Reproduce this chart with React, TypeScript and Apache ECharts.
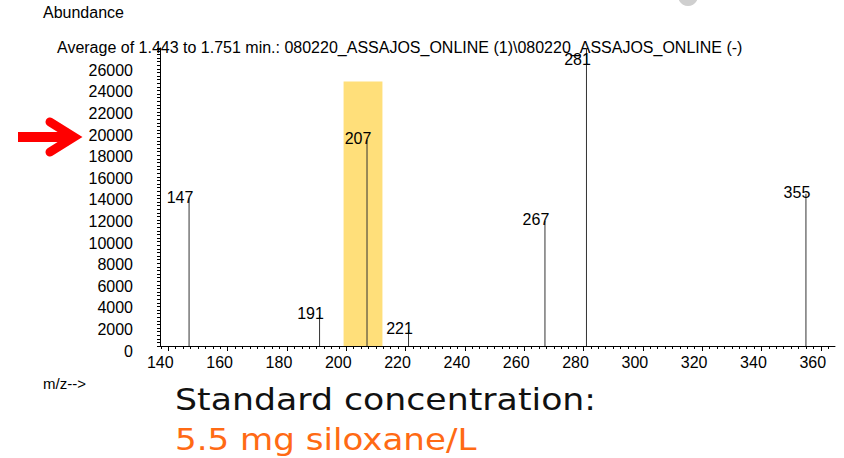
import React, { useEffect, useRef } from "react";
import * as echarts from "echarts";

// ---- data ----
const mzValues = [147, 191, 207, 221, 267, 281, 355];
const abundances = [13700, 2900, 19100, 1500, 11600, 27600, 14100];
const xTickLabels = [140, 160, 180, 200, 220, 240, 260, 280, 300, 320, 340, 360];
const yTickLabels = [0, 2000, 4000, 6000, 8000, 10000, 12000, 14000, 16000, 18000, 20000, 22000, 24000, 26000];
const highlightRange = [199.1, 212.2];
const highlightTop = 24500;
const xMin = 137.2;
const xMax = 364.8;
const yMax = 27600;
const minorStep = 2.5;

const titleText = "Average of 1.443 to 1.751 min.: 080220_ASSAJOS_ONLINE (1)\\080220_ASSAJOS_ONLINE (-)";
const FONT = "'Liberation Sans', Arial, sans-serif";
const BIG_FONT = "'DejaVu Sans', Verdana, sans-serif";

export default function App() {
  const ref = useRef<HTMLDivElement>(null);

  useEffect(() => {
    if (!ref.current) return;
    const chart = echarts.init(ref.current, undefined, { renderer: "svg" });

    const minorTicks: number[] = [];
    for (let v = 137.5; v <= xMax + 1e-9; v += minorStep) minorTicks.push(v);

    const peakData = mzValues.map((mz, i) => {
      const item: any = { value: [mz, abundances[i]] };
      if (abundances[i] >= yMax) {
        item.label = { offset: [-9, 19] };
      }
      return item;
    });

    chart.setOption({
      animation: false,
      backgroundColor: "#ffffff",
      grid: { left: 160, top: 48, right: 9, bottom: 112, containLabel: false },
      xAxis: [
        {
          type: "value",
          min: xMin,
          max: xMax,
          position: "bottom",
          axisLine: { show: true, onZero: false, lineStyle: { color: "#000", width: 1 } },
          axisTick: { show: true, length: 5, customValues: xTickLabels, lineStyle: { color: "#000" } },
          axisLabel: {
            show: true,
            customValues: xTickLabels,
            color: "#000",
            fontFamily: FONT,
            fontSize: 16,
            margin: 8,
            padding: [0, 16, 0, 0],
          },
          splitLine: { show: false },
        },
        {
          type: "value",
          min: xMin,
          max: xMax,
          position: "bottom",
          axisLine: { show: false },
          axisTick: { show: true, length: 3, customValues: minorTicks, lineStyle: { color: "#000" } },
          axisLabel: { show: false },
          splitLine: { show: false },
        },
      ],
      yAxis: {
        type: "value",
        min: 0,
        max: yMax,
        interval: 2000,
        axisLine: { show: true, lineStyle: { color: "#000", width: 1 } },
        axisTick: { show: true, length: 3, lineStyle: { color: "#000" } },
        minorTick: { show: true, splitNumber: 6, length: 3, lineStyle: { color: "#000" } },
        axisLabel: {
          color: "#000",
          fontFamily: FONT,
          fontSize: 16,
          margin: 27,
          verticalAlign: "top",
          lineHeight: 10,
          showMaxLabel: false,
          formatter: (v: number) => (yTickLabels.indexOf(v) >= 0 ? String(v) : ""),
        },
        splitLine: { show: false },
      },
      series: [
        {
          type: "bar",
          xAxisIndex: 0,
          barWidth: 1,
          data: peakData,
          itemStyle: { color: "#333" },
          label: {
            show: true,
            position: "top",
            distance: 0,
            offset: [-9, 7],
            color: "#000",
            fontFamily: FONT,
            fontSize: 16,
            formatter: (p: any) => String(p.value[0]),
          },
          markArea: {
            silent: true,
            itemStyle: { color: "#FFDF7A", opacity: 1 },
            data: [[{ xAxis: highlightRange[0], yAxis: 0 }, { xAxis: highlightRange[1], yAxis: highlightTop }]],
          },
          z: 3,
        },
      ],
      graphic: [
        {
          type: "text",
          left: 43,
          top: 4,
          style: { text: "Abundance", fill: "#000", font: `16px ${FONT}` },
        },
        {
          type: "text",
          x: 57,
          y: 47,
          style: { text: titleText, fill: "#000", font: `16px ${FONT}`, verticalAlign: "middle" },
        },
        {
          type: "text",
          x: 43,
          y: 383,
          style: { text: "m/z-->", fill: "#000", font: `15px ${FONT}`, verticalAlign: "middle" },
        },
        {
          type: "text",
          x: 175,
          y: 415,
          scaleX: 1.12,
          style: { text: "Standard concentration:", fill: "#111", font: `31px ${BIG_FONT}`, verticalAlign: "bottom" },
        },
        {
          type: "text",
          x: 175,
          y: 455,
          scaleX: 1.1,
          style: { text: "5.5 mg siloxane/L", fill: "#FF6A14", font: `31px ${BIG_FONT}`, verticalAlign: "bottom" },
        },
        {
          type: "line",
          shape: { x1: 18, y1: 137, x2: 70, y2: 137 },
          style: { stroke: "#FF0000", lineWidth: 10, lineCap: "butt" },
        },
        {
          type: "polyline",
          shape: { points: [[50, 122], [74, 137], [50, 152]] },
          style: { stroke: "#FF0000", fill: null, lineWidth: 9, lineCap: "round", lineJoin: "miter" },
        },
        {
          type: "circle",
          shape: { cx: 688, cy: -4, r: 10 },
          style: { fill: "#cfcfcf" },
        },
      ],
    });

    return () => chart.dispose();
  }, []);

  return (
    <div
      ref={ref}
      style={{ position: "fixed", left: 0, top: 0, width: 844, height: 458 }}
    />
  );
}
